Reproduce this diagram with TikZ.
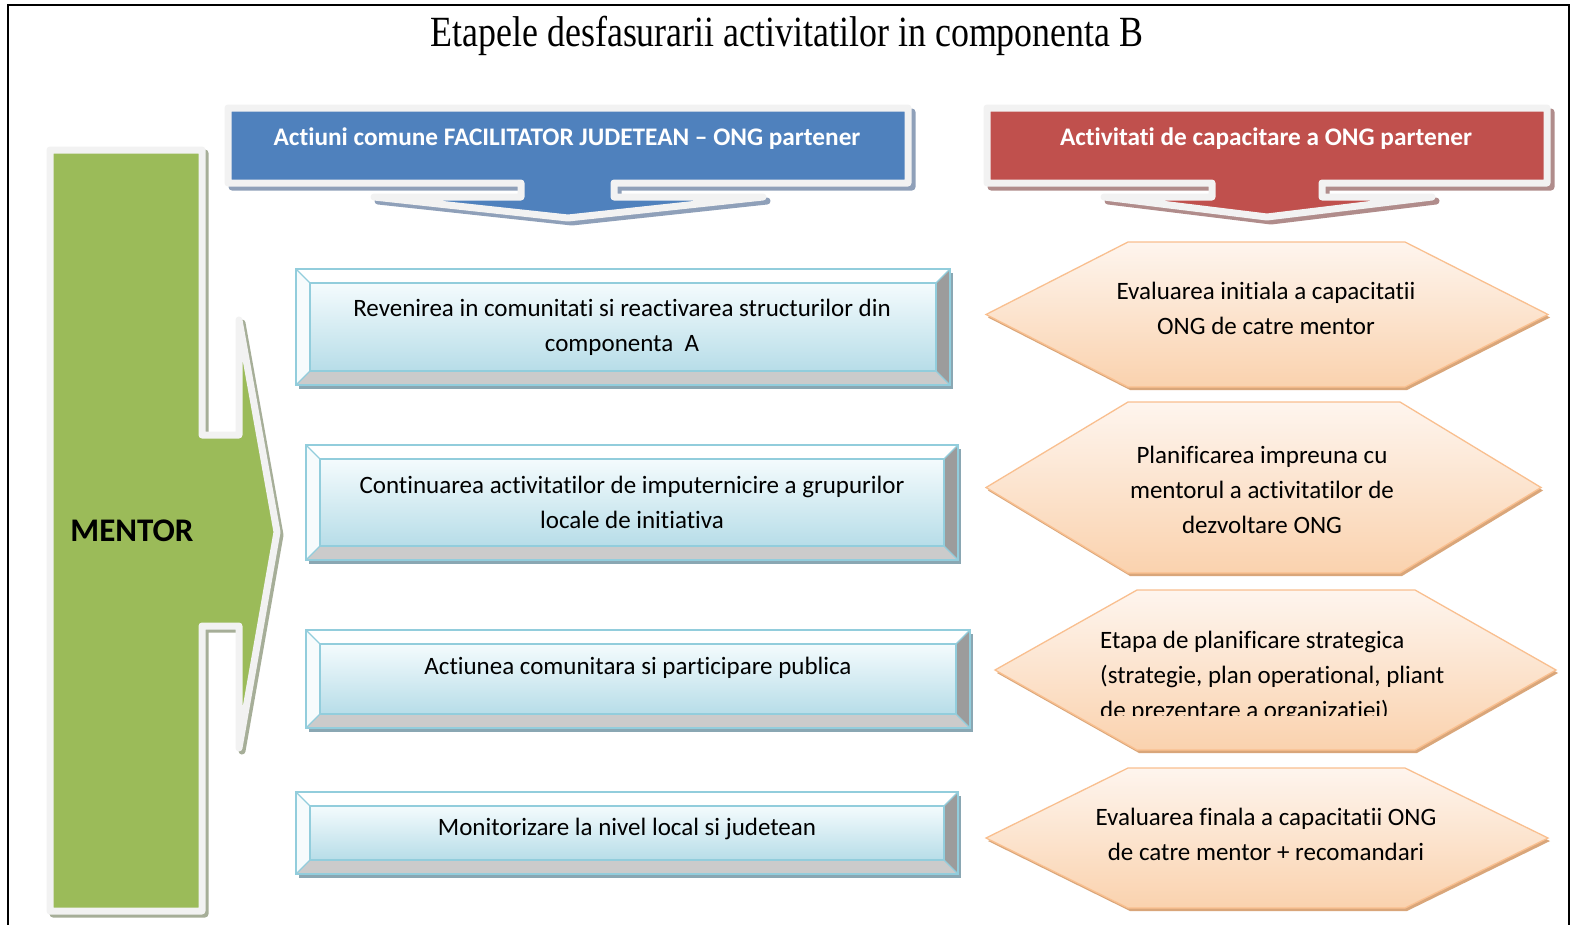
\documentclass[tikz,border=0pt]{standalone}
\usepackage{fontspec}
\setmainfont[Ligatures=NoCommon]{Carlito}
\newfontfamily\titlefont{Liberation Serif}
\definecolor{cblue}{HTML}{4F81BD}
\definecolor{cred}{HTML}{C0504D}
\definecolor{cgreen}{HTML}{9BBB59}
\definecolor{cframe}{HTML}{F2F2F2}
\definecolor{sblue}{HTML}{8FA0B9}
\definecolor{sred}{HTML}{B08C8B}
\definecolor{sgreen}{HTML}{A6AE98}
\definecolor{bline}{HTML}{92CDDC}
\definecolor{btop}{HTML}{F4FBFD}
\definecolor{bbot}{HTML}{B7DDE8}
\definecolor{bright}{HTML}{9C9C9C}
\definecolor{bbottom}{HTML}{CBCBCB}
\definecolor{bshadow}{HTML}{8AA7B3}
\definecolor{hline}{HTML}{F9BF8F}
\definecolor{htop}{HTML}{FEF5EE}
\definecolor{hbot}{HTML}{FAD2AE}
\definecolor{hshadow}{HTML}{D9A67A}
\tikzset{
  callout/.style={line width=7pt, draw=cframe, line join=round},
  calshadow/.style={line width=7pt, line join=round},
  bevline/.style={draw=bline, line width=1.3pt, line join=miter},
  bodytext/.style={font=\fontsize{25}{35}\selectfont, align=center, inner sep=0pt, text=black},
  bantext/.style={font=\bfseries\fontsize{25.3}{28}\selectfont, text=white, inner sep=0pt},
  hexline/.style={draw=hline, line width=1.3pt, top color=htop, bottom color=hbot},
  bluepath/.style={insert path={(228,108) -- (908,108) -- (908,183) -- (614,183) -- (614,197) -- (763,197) -- (568,218) -- (374,197) -- (521,197) -- (521,183) -- (228,183) -- cycle}},
  redpath/.style={insert path={(987,108) -- (1547,108) -- (1547,183) -- (1322,183) -- (1322,197) -- (1432,197) -- (1267,217) -- (1104,197) -- (1212,197) -- (1212,183) -- (987,183) -- cycle}},
  greenpath/.style={insert path={(50,150) -- (202,150) -- (202,435) -- (239,435) -- (239,320) -- (277,532) -- (239,748) -- (239,626) -- (202,626) -- (202,911) -- (50,911) -- cycle}}
}
\newcommand\BevBox[4]{%
  \fill[bshadow] (#1+3,#2+4) rectangle (#3+3,#4+4);
  \fill[white] (#1,#2) -- (#3,#2) -- (#3-14,#2+14) -- (#1+14,#2+14) -- cycle;
  \fill[white!92!bline] (#1,#2) -- (#1+14,#2+14) -- (#1+14,#4-14) -- (#1,#4) -- cycle;
  \fill[bright] (#3,#2) -- (#3,#4) -- (#3-14,#4-14) -- (#3-14,#2+14) -- cycle;
  \fill[bbottom] (#1,#4) -- (#3,#4) -- (#3-14,#4-14) -- (#1+14,#4-14) -- cycle;
  \shade[top color=btop, bottom color=bbot] (#1+14,#2+14) rectangle (#3-14,#4-14);
  \draw[bevline] (#1,#2) rectangle (#3,#4);
  \draw[bevline] (#1+14,#2+14) rectangle (#3-14,#4-14);
  \draw[bevline] (#1,#2) -- (#1+14,#2+14) (#3,#2) -- (#3-14,#2+14) (#1,#4) -- (#1+14,#4-14) (#3,#4) -- (#3-14,#4-14);
}
\newcommand\Hexa[6]{%
  \fill[hshadow, shift={(2,3)}] (#1,{(#5+#6)/2}) -- (#2,#5) -- (#3,#5) -- (#4,{(#5+#6)/2}) -- (#3,#6) -- (#2,#6) -- cycle;
  \shade[hexline] (#1,{(#5+#6)/2}) -- (#2,#5) -- (#3,#5) -- (#4,{(#5+#6)/2}) -- (#3,#6) -- (#2,#6) -- cycle;
}
\begin{document}
\begin{tikzpicture}[x=1pt,y=-1pt]
\useasboundingbox (0,0) rectangle (1573,924);
\fill[white] (0,0) rectangle (1573,924);
% frame
\draw[line width=2pt] (8,940) -- (8,5) -- (1569,5) -- (1569,940);
% title
\node (title) at (787,36) {\scalebox{1}[1.2]{\titlefont\fontsize{35.9}{40}\selectfont Etapele desfasurarii activitatilor in componenta B}};

% blue banner
\path[calshadow, fill=sblue, draw=sblue, shift={(4,4)}, bluepath];
\path[callout, fill=cblue, bluepath];
\node[bantext] (ban1) at (567,139) {Actiuni comune FACILITATOR JUDETEAN – ONG partener};

% red banner
\path[calshadow, fill=sred, draw=sred, shift={(4,4)}, redpath];
\path[callout, fill=cred, redpath];
\node[bantext] (ban2) at (1266,139) {Activitati de capacitare a ONG partener};

% green mentor arrow
\path[calshadow, fill=sgreen, draw=sgreen, shift={(3,3)}, greenpath];
\path[callout, fill=cgreen, greenpath];
\node[font=\bfseries\fontsize{33}{36}\selectfont, inner sep=0pt] (mentor) at (132,531) {MENTOR};

% left boxes
\BevBox{296}{269}{950}{385}
\node[bodytext] (b1) at (622,327) {Revenirea in comunitati si reactivarea structurilor din\\componenta\ \ A};
\BevBox{306}{445}{958}{560}
\node[bodytext] (b2) at (632,502) {Continuarea activitatilor de imputernicire a grupurilor\\locale de initiativa};
\BevBox{306}{630}{970}{728}
\node[bodytext] (b3) at (638,668) {Actiunea comunitara si participare publica};
\BevBox{296}{792}{958}{874}
\node[bodytext] (b4) at (627,829) {Monitorizare la nivel local si judetean};

% right hexagons
\Hexa{986}{1128}{1405}{1548}{242}{387}
\node[bodytext] (h1) at (1266,308) {Evaluarea initiala a capacitatii\\ONG de catre mentor};
\Hexa{986}{1128}{1400}{1541}{402}{573}
\node[bodytext] (h2) at (1262,490) {Planificarea impreuna cu\\mentorul a activitatilor de\\dezvoltare ONG};
\Hexa{995}{1137}{1415}{1556}{590}{750}
\begin{scope}
\clip (1000,600) rectangle (1560,715);
\node[bodytext, align=left, anchor=west] (h3) at (1100,677) {Etapa de planificare strategica\\(strategie, plan operational, pliant\\de prezentare a organizatiei)};
\end{scope}
\Hexa{986}{1128}{1405}{1548}{768}{908}
\node[bodytext] (h4) at (1266,834) {Evaluarea finala a capacitatii ONG\\de catre mentor + recomandari};
\end{tikzpicture}
\end{document}
